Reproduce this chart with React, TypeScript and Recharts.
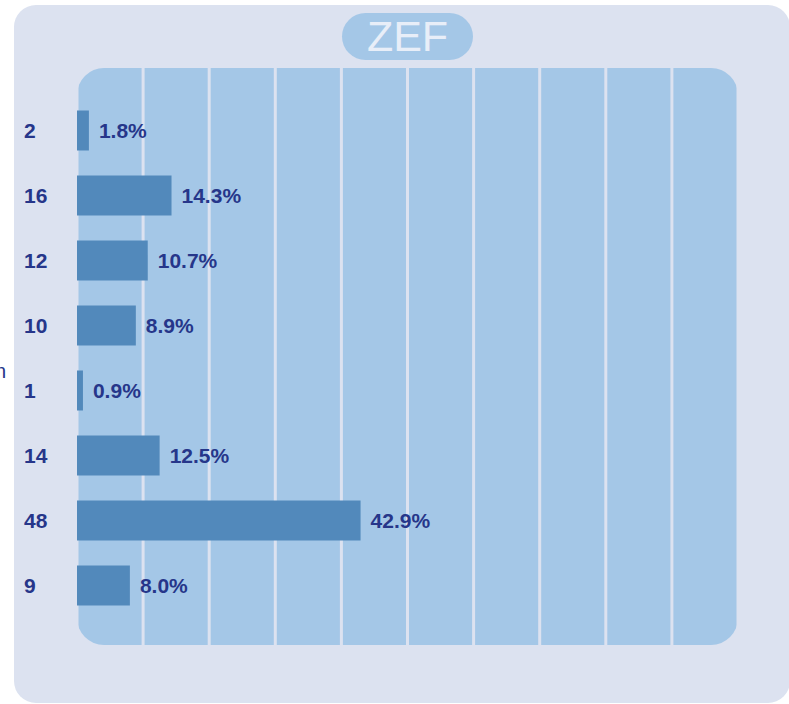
import React from "react";
import { BarChart, Bar, XAxis, YAxis, CartesianGrid, LabelList } from "recharts";

const counts = ["2", "16", "12", "10", "1", "14", "48", "9"];
const percents = [1.8, 14.3, 10.7, 8.9, 0.9, 12.5, 42.9, 8.0];
const percentLabels = ["1.8%", "14.3%", "10.7%", "8.9%", "0.9%", "12.5%", "42.9%", "8.0%"];
const xTicks = [10, 20, 30, 40, 50, 60, 70, 80, 90];

const data = counts.map((c, i) => ({ count: c, pct: percents[i], label: percentLabels[i] }));

const NAVY = "#26368a";
const FONT = '"Liberation Sans", Arial, sans-serif';

const CountTick = (props: any) => {
  const { y, payload } = props;
  return (
    <text x={24} y={y} dy="0.36em" textAnchor="start" fill={NAVY} fontSize={21} fontWeight="bold" fontFamily={FONT}>
      {payload.value}
    </text>
  );
};

export default function App() {
  return (
    <div style={{ position: "absolute", left: 0, top: 0, width: 789, height: 704, background: "#ffffff", overflow: "hidden", fontFamily: FONT }}>
      <div style={{ position: "absolute", left: 14, top: 5, width: 776, height: 698, borderRadius: 22, background: "#dce2f0" }} />
      <div style={{ position: "absolute", left: 77, top: 68, width: 661, height: 577, borderRadius: 27, background: "#a4c7e7" }} />
      <div style={{ position: "absolute", left: 342, top: 13, width: 131, height: 47, borderRadius: 24, background: "#a4c7e7", color: "#e8eef8", fontSize: 43, lineHeight: "47px", textAlign: "center", fontFamily: FONT }}>
        ZEF
      </div>
      <div style={{ position: "absolute", right: 783, top: 357, fontSize: 20, color: NAVY, fontFamily: FONT, lineHeight: "28px" }}>n</div>
      <div style={{ position: "absolute", left: 0, top: 0 }}>
        <BarChart
          width={789}
          height={704}
          data={data}
          layout="vertical"
          margin={{ top: 68, right: 51, bottom: 59, left: 17 }}
          barSize={40}
        >
          <CartesianGrid horizontal={false} vertical={true} stroke="#dce2f0" strokeWidth={3} />
          <XAxis type="number" domain={[0, 100]} ticks={xTicks} hide />
          <YAxis
            type="category"
            dataKey="count"
            width={60}
            axisLine={false}
            tickLine={false}
            tick={<CountTick />}
            padding={{ top: 29.5, bottom: 27.5 }}
          />
          <Bar dataKey="pct" fill="#5289bb" isAnimationActive={false}>
            <LabelList dataKey="label" position="right" offset={10} fill={NAVY} fontSize={21} fontWeight="bold" fontFamily={FONT} />
          </Bar>
        </BarChart>
      </div>
    </div>
  );
}
